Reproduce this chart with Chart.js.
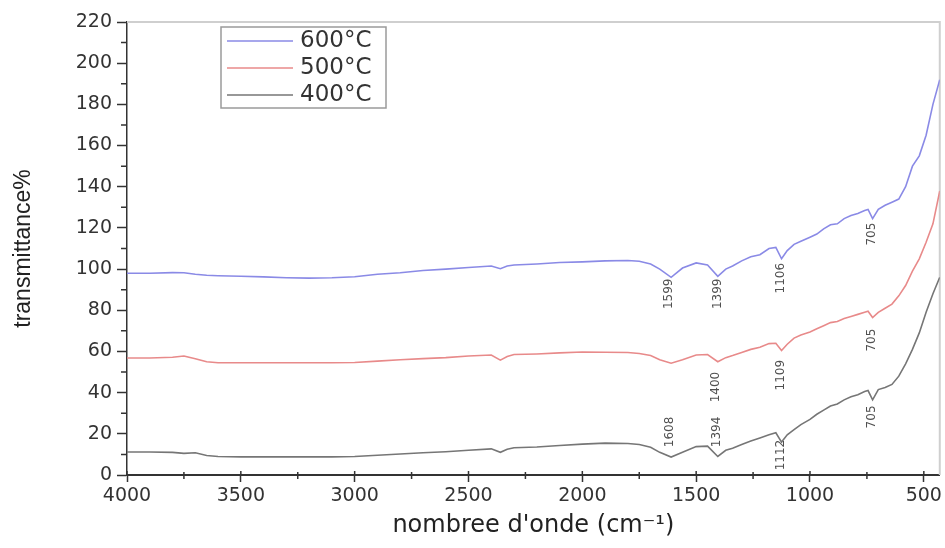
<!DOCTYPE html>
<html>
<head>
<meta charset="utf-8">
<script src="https://cdn.jsdelivr.net/npm/chart.js@4.4.0/dist/chart.umd.min.js"></script>
<style>
  html, body { margin: 0; padding: 0; background: #fff; }
  #wrap { width: 945px; height: 548px; }
</style>
</head>
<body>
<div id="wrap"><canvas id="ftir" width="945" height="548"></canvas></div>
<script>
// nombre d'onde (cm-1)
const wavenumbers = [4000, 3900, 3800, 3750, 3700, 3650, 3600, 3500, 3400, 3300, 3200, 3100, 3000, 2900, 2800, 2700, 2600, 2500, 2400, 2360, 2330, 2300, 2200, 2100, 2000, 1900, 1800, 1750,
  1700, 1660, 1610, 1560, 1500, 1450, 1405, 1370, 1340, 1300, 1260, 1220, 1180, 1150, 1125, 1100, 1070, 1040, 1000, 970, 940, 910, 880, 850, 820, 790, 760, 745, 725, 700, 670, 640, 610, 580, 550, 520, 490, 460, 430];

const t600 = [98, 98, 98.3, 98.2, 97.5, 97, 96.8, 96.5, 96.2, 95.8, 95.6, 95.8, 96.3, 97.5, 98.2, 99.3, 100, 100.8, 101.5, 100.2, 101.5, 102, 102.5, 103.2, 103.5, 104, 104.2, 103.8,
  102.5, 100, 96, 100.5, 103, 102, 96.5, 100, 101.5, 104, 106, 107, 110, 110.5, 105, 109, 112, 113.5, 115.5, 117, 119.5, 121.5, 122, 124.5, 126, 127, 128.5, 129, 124.5, 129, 131, 132.5, 134, 140, 150, 155, 165, 180, 192];

const t500 = [56.8, 56.8, 57.2, 57.8, 56.5, 55, 54.5, 54.5, 54.5, 54.5, 54.5, 54.5, 54.6, 55.3, 56, 56.5, 57, 57.8, 58.3, 55.8, 57.5, 58.5, 58.8, 59.3, 59.7, 59.6, 59.5, 59,
  58, 56, 54.3, 56, 58.3, 58.5, 55, 57, 58, 59.5, 61, 62, 63.8, 64, 60.5, 63.5, 66.5, 68, 69.5, 71, 72.5, 74, 74.5, 76, 77, 78, 79, 79.5, 76.5, 79, 81, 83, 87, 92, 99, 105, 113, 122, 138];

const t400 = [11.2, 11.2, 11, 10.5, 10.8, 9.5, 9, 8.8, 8.8, 8.8, 8.8, 8.8, 9, 9.6, 10.2, 10.8, 11.3, 12, 12.7, 11, 12.5, 13.2, 13.6, 14.3, 15, 15.5, 15.3, 14.8,
  13.5, 11, 8.7, 11, 13.8, 14, 9, 12, 13, 14.8, 16.5, 18, 19.5, 20.5, 16, 19.5, 22, 24.5, 27, 29.5, 31.5, 33.5, 34.5, 36.5, 38, 39, 40.5, 41, 36.5, 41.5, 42.5, 44, 48, 54, 61, 69, 79, 88, 96];

const seriesLabels = ['600°C', '500°C', '400°C'];
const seriesColors = ['#8a8ae6', '#e88a8a', '#767676'];

const xTicks = [4000, 3500, 3000, 2500, 2000, 1500, 1000, 500];
const xMinor = [3750, 3250, 2750, 2250, 1750, 1250, 750];
const yTicks = [0, 20, 40, 60, 80, 100, 120, 140, 160, 180, 200, 220];
const yMinor = [10, 30, 50, 70, 90, 110, 130, 150, 170, 190, 210];

// bandes marquées (texte, position en nombre d'onde, transmittance)
const peakText = ['1599', '1399', '1106', '705', '1400', '1109', '705', '1608', '1394', '1112', '705'];
const peakWn = [1620, 1406, 1126, 728, 1415, 1130, 728, 1616, 1410, 1126, 728];
const peakY = [88, 88, 95.6, 117, 42.7, 48.5, 65.5, 20.9, 20.9, 9.7, 28.2];

const makeSeries = vals => wavenumbers.map((w, i) => ({ x: w, y: vals[i] }));

// ticks mineurs + partie intérieure des ticks majeurs
const minorTicks = {
    id: 'minorTicks',
    afterDraw(chart) {
        const { ctx, chartArea, scales: { x, y } } = chart;
        ctx.save();
        ctx.strokeStyle = '#333';
        ctx.lineWidth = 1.5;
        ctx.beginPath();
        xMinor.forEach(v => {
            const p = x.getPixelForValue(v);
            ctx.moveTo(p, chartArea.bottom - 3);
            ctx.lineTo(p, chartArea.bottom + 4);
        });
        xTicks.forEach(v => {
            const p = x.getPixelForValue(v);
            ctx.moveTo(p, chartArea.bottom - 4);
            ctx.lineTo(p, chartArea.bottom);
        });
        yMinor.forEach(v => {
            const p = y.getPixelForValue(v);
            ctx.moveTo(chartArea.left - 6, p);
            ctx.lineTo(chartArea.left, p);
        });
        ctx.stroke();
        ctx.restore();
    }
};

// cadre clair en haut et à droite
const frame = {
    id: 'frame',
    beforeDatasetsDraw(chart) {
        const { ctx, chartArea } = chart;
        ctx.save();
        ctx.strokeStyle = '#cfcfcf';
        ctx.lineWidth = 2;
        ctx.beginPath();
        ctx.moveTo(chartArea.left, chartArea.top);
        ctx.lineTo(chartArea.right, chartArea.top);
        ctx.lineTo(chartArea.right, chartArea.bottom);
        ctx.stroke();
        ctx.restore();
    }
};

// étiquettes verticales des bandes
const peakLabels = {
    id: 'peakLabels',
    afterDatasetsDraw(chart) {
        const { ctx, scales: { x, y } } = chart;
        ctx.save();
        ctx.fillStyle = '#505050';
        ctx.font = '12px "DejaVu Sans"';
        ctx.textAlign = 'center';
        ctx.textBaseline = 'middle';
        peakText.forEach((t, i) => {
            ctx.save();
            ctx.translate(x.getPixelForValue(peakWn[i]), y.getPixelForValue(peakY[i]));
            ctx.rotate(-Math.PI / 2);
            ctx.fillText(t, 0, 0);
            ctx.restore();
        });
        ctx.restore();
    }
};

// légende encadrée
const boxLegend = {
    id: 'boxLegend',
    afterDraw(chart) {
        const { ctx } = chart;
        const left = 221, top = 27, w = 165, h = 81;
        ctx.save();
        ctx.fillStyle = '#fff';
        ctx.fillRect(left, top, w, h);
        ctx.strokeStyle = '#9a9a9a';
        ctx.lineWidth = 1.5;
        ctx.strokeRect(left, top, w, h);
        ctx.font = '23px "DejaVu Sans"';
        ctx.textBaseline = 'middle';
        ctx.fillStyle = '#333';
        chart.data.datasets.forEach((ds, i) => {
            const yy = top + 14 + i * 27;
            ctx.strokeStyle = ds.borderColor;
            ctx.lineWidth = 1.6;
            ctx.beginPath();
            ctx.moveTo(left + 6, yy);
            ctx.lineTo(left + 72, yy);
            ctx.stroke();
            ctx.fillText(ds.label, left + 79, yy);
        });
        ctx.restore();
    }
};

const ctx = document.getElementById('ftir').getContext('2d');
new Chart(ctx, {
    type: 'line',
    data: {
        datasets: [
            { label: seriesLabels[0], data: makeSeries(t600), borderColor: seriesColors[0], borderWidth: 1.6, pointRadius: 0, tension: 0, fill: false },
            { label: seriesLabels[1], data: makeSeries(t500), borderColor: seriesColors[1], borderWidth: 1.6, pointRadius: 0, tension: 0, fill: false },
            { label: seriesLabels[2], data: makeSeries(t400), borderColor: seriesColors[2], borderWidth: 1.6, pointRadius: 0, tension: 0, fill: false }
        ]
    },
    options: {
        responsive: false,
        devicePixelRatio: 1,
        animation: false,
        layout: { padding: { top: 22, right: 2, left: 0, bottom: 0 } },
        plugins: { legend: { display: false }, tooltip: { enabled: false } },
        scales: {
            x: {
                type: 'linear',
                reverse: true,
                min: 430,
                max: 4000,
                afterBuildTicks: s => { s.ticks = xTicks.map(v => ({ value: v })); },
                afterFit: s => { s.height = 73; },
                grid: { drawOnChartArea: false, tickLength: 7, tickColor: '#333', tickWidth: 1.5 },
                border: { color: '#333', width: 2 },
                ticks: { font: { family: 'DejaVu Sans', size: 19 }, color: '#333', padding: 3, maxRotation: 0, autoSkip: false, callback: v => String(v) },
                title: {
                    display: true,
                    text: "nombree d'onde (cm\u207B\u00B9)",
                    font: { family: 'DejaVu Sans', size: 24 },
                    color: '#222',
                    padding: { top: 0, bottom: 8 }
                }
            },
            y: {
                min: 0,
                max: 220,
                afterBuildTicks: s => { s.ticks = yTicks.map(v => ({ value: v })); },
                afterFit: s => { s.width = 127; },
                grid: { drawOnChartArea: false, tickLength: 10, tickColor: '#333', tickWidth: 1.5 },
                border: { color: '#333', width: 1.5 },
                ticks: { font: { family: 'DejaVu Sans', size: 19 }, color: '#333', padding: 5, callback: v => String(v) },
                title: {
                    display: true,
                    text: 'transmittance%',
                    font: { family: "'Liberation Sans Narrow', 'Liberation Sans', Arial", size: 23 },
                    color: '#222',
                    padding: { top: 10, bottom: 0 }
                }
            }
        }
    },
    plugins: [frame, peakLabels, minorTicks, boxLegend]
});
</script>
</body>
</html>
